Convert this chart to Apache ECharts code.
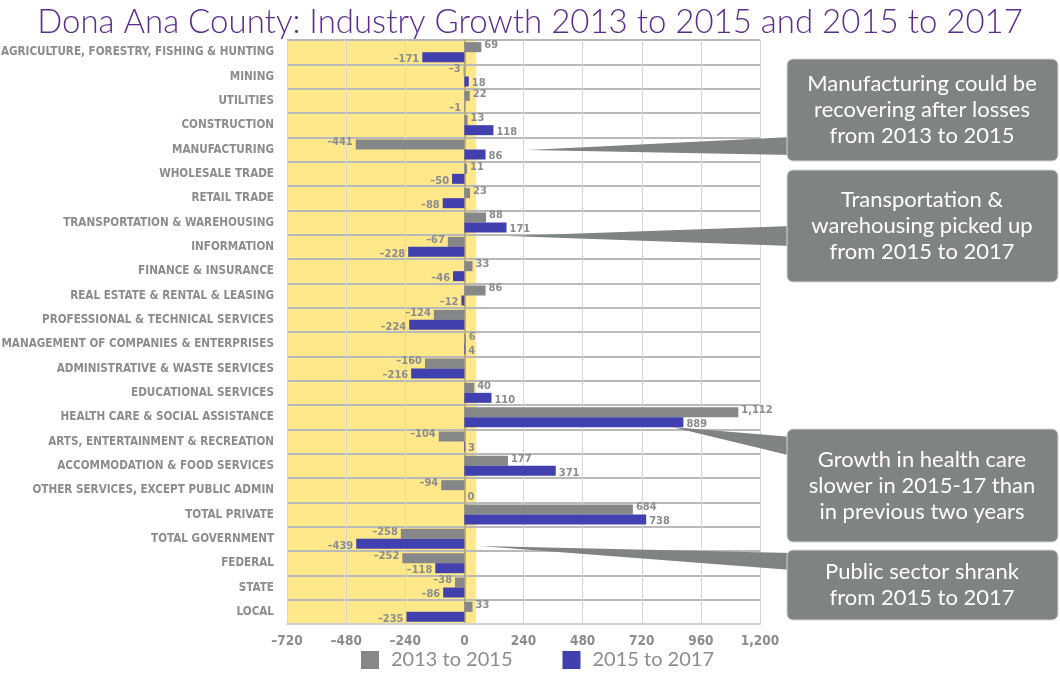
<!DOCTYPE html>
<html>
<head>
<meta charset="utf-8">
<script src="https://cdn.jsdelivr.net/npm/echarts@6/dist/echarts.min.js"></script>
<style>
  html, body { margin: 0; padding: 0; background: #fff; }
  #chart { width: 1060px; height: 677px; }
</style>
</head>
<body>
<div id="chart"></div>
<script>
// industries, top to bottom
const industries = [
  "AGRICULTURE, FORESTRY, FISHING & HUNTING", "MINING", "UTILITIES", "CONSTRUCTION",
  "MANUFACTURING", "WHOLESALE TRADE", "RETAIL TRADE", "TRANSPORTATION & WAREHOUSING",
  "INFORMATION", "FINANCE & INSURANCE", "REAL ESTATE & RENTAL & LEASING",
  "PROFESSIONAL & TECHNICAL SERVICES", "MANAGEMENT OF COMPANIES & ENTERPRISES",
  "ADMINISTRATIVE & WASTE SERVICES", "EDUCATIONAL SERVICES", "HEALTH CARE & SOCIAL ASSISTANCE",
  "ARTS, ENTERTAINMENT & RECREATION", "ACCOMMODATION & FOOD SERVICES",
  "OTHER SERVICES, EXCEPT PUBLIC ADMIN", "TOTAL PRIVATE", "TOTAL GOVERNMENT",
  "FEDERAL", "STATE", "LOCAL"
];
const growth2013to2015 = [69, -3, 22, 13, -441, 11, 23, 88, -67, 33, 86, -124, 6, -160, 40, 1112, -104, 177, -94, 684, -258, -252, -38, 33];
const growth2015to2017 = [-171, 18, -1, 118, 86, -50, -88, 171, -228, -46, -12, -224, 4, -216, 110, 889, 3, 371, 0, 738, -439, -118, -86, -235];
const xTicks = [-720, -480, -240, 0, 240, 480, 720, 960, 1200];
const seriesNames = ["2013 to 2015", "2015 to 2017"];

const callouts = [
  "Manufacturing could be\nrecovering after losses\nfrom 2013 to 2015",
  "Transportation &\nwarehousing picked up\nfrom 2015 to 2017",
  "Growth in health care\nslower in 2015-17 than\nin previous two years",
  "Public sector shrank\nfrom 2015 to 2017"
];

const GRAY = "#858788";
const BLUE = "#4040ae";
const TXT = "#8a8c8e";
const condensed = "'DejaVu Sans Condensed', 'DejaVu Sans', sans-serif";

const fmt = (v) => {
  const s = Math.abs(v).toLocaleString("en-US");
  return v < 0 ? "\u2013" + s : s;
};

const chart = echarts.init(document.getElementById("chart"));

// callout boxes + wedges pointing at bars
const boxes = [
  { y: 59, h: 102, text: callouts[0], tip: [528, 150], w0: 137, w1: 155 },
  { y: 170, h: 112, text: callouts[1], tip: [508, 236], w0: 226, w1: 246 },
  { y: 429, h: 113, text: callouts[2], tip: [672, 427], w0: 437, w1: 456 },
  { y: 550, h: 70, text: callouts[3], tip: [480, 546], w0: 553, w1: 570 }
];
const graphics = [];
boxes.forEach((b) => {
  graphics.push({
    type: "polygon", z: 10,
    shape: { points: [b.tip, [792, b.w0], [792, b.w1]] },
    style: { fill: "#808383" }
  });
  graphics.push({
    type: "rect", z: 11,
    shape: { x: 787, y: b.y, width: 271, height: b.h, r: 6 },
    style: { fill: "#808383", stroke: "#d6d6d6", lineWidth: 1 }
  });
  graphics.push({
    type: "text", z: 12,
    x: 787 + 135, y: b.y + b.h / 2,
    style: {
      text: b.text, fill: "#fff", fontSize: 22, lineHeight: 26,
      fontFamily: "Lato, 'Open Sans', sans-serif",
      align: "center", verticalAlign: "middle"
    }
  });
});

const option = {
  animation: false,
  backgroundColor: "#fff",
  title: {
    text: "Dona Ana County: Industry Growth 2013 to 2015 and 2015 to 2017",
    left: "center", top: 1,
    textStyle: { color: "#5c2d8f", fontSize: 33, fontWeight: 300, fontFamily: "Lato, 'Open Sans', sans-serif" }
  },
  legend: {
    bottom: 2, left: 356,
    itemWidth: 18, itemHeight: 18, itemGap: 50,
    icon: "rect",
    textStyle: { color: TXT, fontSize: 20, fontFamily: "Lato, 'Open Sans', sans-serif", padding: [0, 0, 0, 7] },
    data: seriesNames
  },
  grid: { left: 287, right: 300, top: 40, bottom: 53, containLabel: false, outerBoundsMode: "none" },
  xAxis: {
    type: "value", min: xTicks[0], max: xTicks[xTicks.length - 1], interval: 240, z: 1.5,
    axisLine: { show: true, onZero: false, lineStyle: { color: "#cfcfcf", width: 2 } },
    axisTick: { show: false },
    splitLine: { show: true, lineStyle: { color: "#d6d6d6", width: 1 } },
    axisLabel: { color: TXT, fontSize: 13.5, fontWeight: "bold", fontFamily: condensed, formatter: fmt, margin: 10 }
  },
  yAxis: {
    type: "category", data: industries, inverse: true, z: 1.5,
    axisLine: { show: true, lineStyle: { color: "#bfae75", width: 2 } },
    axisTick: { show: false },
    splitLine: { show: true, lineStyle: { color: "#b9b9b9", width: 2 } },
    axisLabel: { color: TXT, fontSize: 11.6, fontWeight: "bold", fontFamily: condensed, margin: 13 }
  },
  series: [
    {
      name: seriesNames[0], type: "bar", data: growth2013to2015,
      barWidth: 10, barGap: "0%",
      itemStyle: { color: GRAY },
      label: { show: true, position: "outside", distance: 3, color: TXT, fontSize: 11, fontWeight: "bold", fontFamily: condensed,
        formatter: (p) => fmt(p.value), offset: [0, -2] },
      markArea: {
        silent: true, z: 0.5,
        itemStyle: { color: "#fee88a" },
        data: [[{ xAxis: xTicks[0] }, { xAxis: 48 }]]
      }
    },
    {
      name: seriesNames[1], type: "bar", data: growth2015to2017,
      barWidth: 10, barGap: "0%",
      itemStyle: { color: BLUE },
      label: { show: true, position: "outside", distance: 3, color: TXT, fontSize: 11, fontWeight: "bold", fontFamily: condensed,
        formatter: (p) => fmt(p.value), offset: [0, 2] }
    }
  ],
  graphic: graphics
};
chart.setOption(option);
</script>
</body>
</html>
